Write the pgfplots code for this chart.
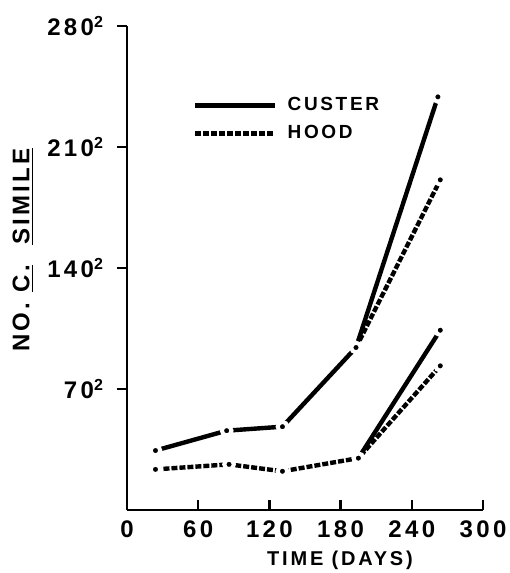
\documentclass[border=0pt]{standalone}
\usepackage{fontspec}
\setmainfont{Liberation Sans}[LetterSpace=14]
\usepackage{pgfplots}
\pgfplotsset{compat=1.18}

\begin{document}
\begin{tikzpicture}
\pgfplotsset{
  custer/.style={black, line width=2.2pt, mark=*, mark size=2.4pt,
    mark options={solid, fill=black, draw=white, line width=2pt}},
  hood/.style={black, line width=2.2pt, dash pattern=on 3pt off 1pt,
    mark=*, mark size=2.4pt,
    mark options={solid, fill=black, draw=white, line width=2pt}},
}
\begin{axis}[
  scale only axis, width=178pt, height=242pt,
  xmin=0, xmax=300, ymin=0, ymax=280,
  axis x line=bottom, axis y line=left,
  axis line style={-, line width=1.2pt},
  every tick/.style={black, line width=1.2pt},
  major tick length=5pt,
  xtick align=inside, ytick align=outside,
  xtick={0,60,120,180,240,300},
  xticklabels={0,60,120,180,240,300},
  ytick={70,140,210,280},
  yticklabels={70\textsuperscript{2},140\textsuperscript{2},210\textsuperscript{2},280\textsuperscript{2}},
  ticklabel style={font=\bfseries\fontsize{12}{13}\selectfont},
  xticklabel style={yshift=-2pt},
  yticklabel style={xshift=-3pt},
  clip=false,
  legend cell align=left,
  legend style={draw=none, fill=none, at={(rel axis cs:0.185,0.862)},
    anchor=north west, inner sep=0pt, row sep=2pt,
    nodes={inner xsep=5pt},
    font=\bfseries\fontsize{9.5}{10}\selectfont},
  legend image code/.code={\draw[#1, mark=none] (0pt,0pt) -- (40pt,0pt);},
]
  % upper pair: one line until day 190, then they split
  \addplot[custer] coordinates {(24,34.4) (84,45.9) (131,48.2) (193,94) (262,239)};
  \addlegendentry{CUSTER}
  % lower pair: one line until day 195, then they split
  \addplot[hood] coordinates {(24,23.5) (86,26.4) (131,22.4) (195,30) (264,83.4)};
  \addlegendentry{HOOD}
  \addplot[hood, forget plot, mark indices={2}] coordinates {(193,94) (264,191)};
  \addplot[custer, forget plot, mark indices={2}] coordinates {(195,30) (264,104)};

  \coordinate (ll) at (rel axis cs:0,0);
  \coordinate (ur) at (rel axis cs:1,1);
\end{axis}
\node[rotate=90, font=\bfseries\fontsize{12}{14}\selectfont]
  at ([xshift=-52pt,yshift=130pt]ll) {NO.\ \underline{C.}\ \ \underline{SIMILE}};
\node[font=\bfseries\fontsize{10}{12}\selectfont]
  at ([xshift=106.5pt,yshift=-25pt]ll) {TIME (DAYS)};
\pgfresetboundingbox
\path[use as bounding box] ([xshift=-63.5pt,yshift=-31.5pt]ll) rectangle ([xshift=13.5pt,yshift=13pt]ur);
\end{tikzpicture}
\end{document}
